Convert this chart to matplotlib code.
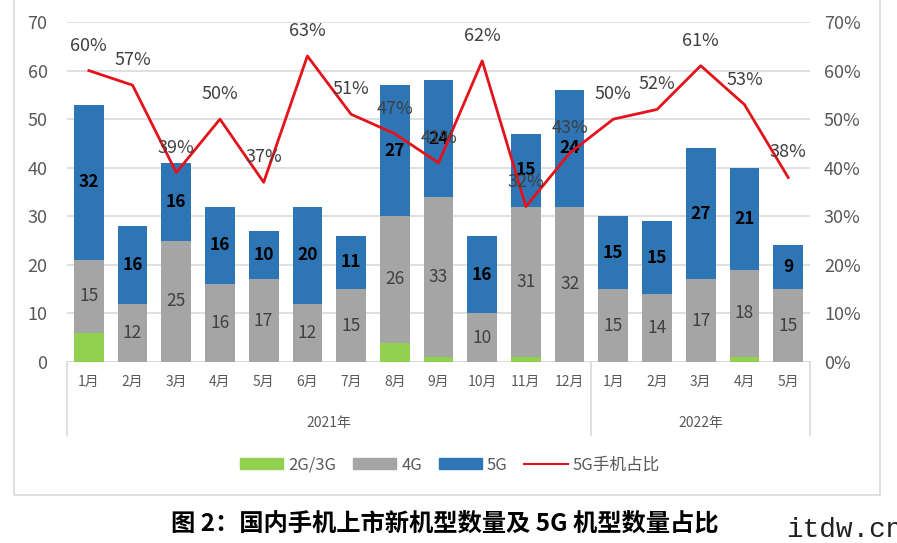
import matplotlib
matplotlib.use("Agg")
import matplotlib.pyplot as plt
import matplotlib.transforms as mtransforms
from matplotlib.patches import Rectangle
from matplotlib.lines import Line2D
import numpy as np

plt.rcParams['font.family'] = ['Noto Sans CJK SC', 'DejaVu Sans']

months = ["1月", "2月", "3月", "4月", "5月", "6月", "7月", "8月", "9月", "10月", "11月", "12月",
          "1月", "2月", "3月", "4月", "5月"]
years = ["2021年", "2022年"]
year_counts = [12, 5]
g23 = [6, 0, 0, 0, 0, 0, 0, 4, 1, 0, 1, 0, 0, 0, 0, 1, 0]
g4 = [15, 12, 25, 16, 17, 12, 15, 26, 33, 10, 31, 32, 15, 14, 17, 18, 15]
g5 = [32, 16, 16, 16, 10, 20, 11, 27, 24, 16, 15, 24, 15, 15, 27, 21, 9]
share = [60, 57, 39, 50, 37, 63, 51, 47, 41, 62, 32, 43, 50, 52, 61, 53, 38]

c_green = "#92d050"
c_gray = "#a5a5a5"
c_blue = "#2e75b6"
c_red = "#e3131b"
c_text = "#595959"
c_grid = "#d9d9d9"

fig = plt.figure(figsize=(8.97, 5.43), dpi=100)

# outer frame
fig.patches.append(Rectangle((14 / 897, 1 - 495 / 543), 866 / 897, 500 / 543,
                             transform=fig.transFigure, fill=False,
                             edgecolor=c_grid, lw=1.2))

ax = fig.add_axes([67 / 897, 1 - 362 / 543, 743 / 897, 340 / 543])
x = np.arange(len(months))
w = 0.68
g23a = np.array(g23)
g4a = np.array(g4)
g5a = np.array(g5)

ax.bar(x, g23a, w, color=c_green, zorder=2)
ax.bar(x, g4a, w, bottom=g23a, color=c_gray, zorder=2)
ax.bar(x, g5a, w, bottom=g23a + g4a, color=c_blue, zorder=2)

for i in range(len(x)):
    ax.text(x[i], g23a[i] + g4a[i] / 2, str(g4a[i]), ha='center', va='center',
            fontsize=12.5, color="#404040", zorder=4)
    ax.text(x[i], g23a[i] + g4a[i] + g5a[i] / 2, str(g5a[i]), ha='center', va='center',
            fontsize=12.5, color="black", fontweight='bold', zorder=4)

ax.set_xlim(-0.5, len(x) - 0.5)
ax.set_ylim(0, 70)
ax.set_yticks(range(0, 71, 10))
ax.yaxis.grid(True, color=c_grid, lw=1.2)
ax.set_axisbelow(True)
for s in ax.spines.values():
    s.set_visible(False)
ax.tick_params(axis='y', length=0, pad=14, labelsize=13, labelcolor=c_text)
ax.set_xticks(x)
ax.set_xticklabels(months)
ax.tick_params(axis='x', length=0, pad=9, labelsize=10, labelcolor=c_text)
ax.axhline(0, color=c_grid, lw=1.2, zorder=1)

# category group separators and year labels
trans = mtransforms.blended_transform_factory(ax.transData, ax.transAxes)
start = 0
for yr, n in zip(years, year_counts):
    ax.plot([start - 0.5, start - 0.5], [0, -0.215], color=c_grid, lw=1.2,
            transform=trans, clip_on=False)
    ax.text(start + (n - 1) / 2, -0.18, yr, transform=trans, ha='center', va='center',
            fontsize=10, color=c_text)
    start += n
ax.plot([start - 0.5, start - 0.5], [0, -0.215], color=c_grid, lw=1.2,
        transform=trans, clip_on=False)

ax2 = ax.twinx()
ax2.plot(x, share, color=c_red, lw=2, zorder=5)
ax2.set_ylim(0, 70)
ax2.set_yticks(range(0, 71, 10))
ax2.set_yticklabels([f"{v}%" for v in range(0, 71, 10)])
ax2.tick_params(axis='y', length=0, pad=10, labelsize=13, labelcolor=c_text)
for s in ax2.spines.values():
    s.set_visible(False)
for i, v in enumerate(share):
    ax2.annotate(f"{v}%", (x[i], v), xytext=(0, 25), textcoords='offset pixels',
                 ha='center', va='center', fontsize=13, color="#404040", zorder=6)

handles = [Rectangle((0, 0), 1, 1, color=c_green),
           Rectangle((0, 0), 1, 1, color=c_gray),
           Rectangle((0, 0), 1, 1, color=c_blue),
           Line2D([0], [0], color=c_red, lw=1.5)]
fig.legend(handles, ["2G/3G", "4G", "5G", "5G手机占比"], loc='center',
           bbox_to_anchor=(450 / 897, 1 - 465 / 543), ncol=4, frameon=False,
           fontsize=12, labelcolor=c_text, handlelength=2.6, handleheight=0.6,
           columnspacing=1.0, handletextpad=0.3)

fig.text(445 / 897, 1 - 525 / 543, "图 2：国内手机上市新机型数量及 5G 机型数量占比",
         ha='center', va='center', fontsize=17.5, fontweight='bold', color='black')
fig.text(786 / 897, 1 - 530 / 543, "itdw.cn", ha='left', va='center', fontsize=20,
         family=['Liberation Mono', 'DejaVu Sans Mono'], color='#222222')

fig.savefig("out.png", dpi=100)
